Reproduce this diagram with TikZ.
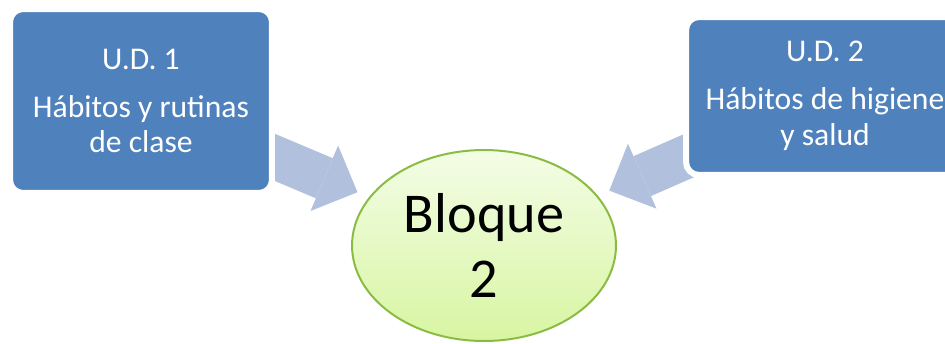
\documentclass[tikz,border=0pt]{standalone}
\usepackage{fontspec}
\setmainfont{Carlito}
\usetikzlibrary{shapes.geometric,arrows.meta,backgrounds}
\definecolor{udblue}{RGB}{79,129,189}
\definecolor{arrowblue}{RGB}{176,192,221}
\definecolor{bloqueline}{RGB}{138,188,68}
\definecolor{bloquetop}{RGB}{243,253,230}
\definecolor{bloquebot}{RGB}{216,245,162}
\tikzset{
  udbox/.style={fill=udblue, draw=white, line width=0.12cm, rounded corners=0.26cm,
    text=white, align=center, inner sep=0pt,
    font=\fontsize{18}{20.4}\selectfont},
  bloque/.style={ellipse, draw=bloqueline, line width=0.04cm, top color=bloquetop,
    bottom color=bloquebot, align=center, inner sep=0pt,
    minimum width=5.28cm, minimum height=3.82cm,
    font=\fontsize{32}{36.8}\selectfont},
  flecha/.style={draw=arrowblue, line width=0.87cm,
    -{Triangle[width=1.42cm,length=0.72cm,line width=0pt]}, shorten >=0.25cm}
}
\begin{document}
\begin{tikzpicture}[x=0.02cm,y=-0.02cm]
		\useasboundingbox (0,0) rectangle (945,343);
		\draw (484,245.5) node[bloque](B2) {Bloque\\2};
		\draw (141,101) node[udbox, minimum width=5.24cm, minimum height=3.68cm](UD1) {U.D. 1\\[6.8pt]Hábitos y rutinas\\de clase};
		\draw (825,96) node[udbox, minimum width=5.56cm, minimum height=3.16cm](UD2) {U.D. 2\\[6.8pt]Hábitos de higiene\\y salud};
		\begin{pgfonlayer}{background}
        \draw[flecha] (UD1.center) -- (B2);
        \draw[flecha] (UD2.center) -- (B2);
		\end{pgfonlayer}
    \end{tikzpicture}
\end{document}
